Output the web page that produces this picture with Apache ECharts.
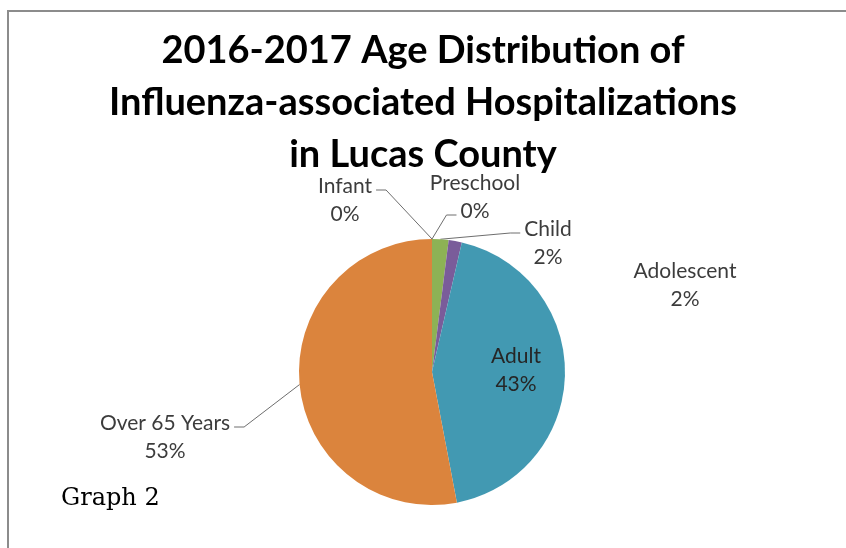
<!DOCTYPE html>
<html>
<head>
<meta charset="utf-8">
<script src="https://cdn.jsdelivr.net/npm/echarts@6/dist/echarts.min.js"></script>
<style>
  html, body { margin: 0; background: #fff; }
  #chart { width: 846px; height: 548px; }
</style>
</head>
<body>
<div id="chart"></div>
<script>
// Age groups and their share of hospitalizations (percent)
const categories = ['Infant', 'Preschool', 'Child', 'Adolescent', 'Adult', 'Over 65 Years'];
const shares = [0, 0, 2.0, 1.6, 43.4, 53.0];

const sliceColors = ['#4f81bd', '#c0504d', '#8db255', '#7a5c9a', '#4299b2', '#db843d'];
// Labels were hand-dragged in the original, so pin them where they sit.
const labelSpots = [[345, 200], [475, 197], [548, 243], [685, 285], [516, 370], [165, 437]];
// Which text row / side the leader line hooks onto (null = no leader).
const leaderHook = ['right-top', 'left-bottom', 'left-top', null, null, 'right-top'];

const LABEL_FONT = 'Lato, "Open Sans", sans-serif';
const LABEL_SIZE = 21;
const LABEL_LH = 28;

const measureCtx = document.createElement('canvas').getContext('2d');
function textWidth(s) {
  measureCtx.font = LABEL_SIZE + 'px ' + LABEL_FONT;
  return measureCtx.measureText(s).width;
}

const chart = echarts.init(document.getElementById('chart'), null, { renderer: 'canvas' });

chart.setOption({
  animation: false,
  backgroundColor: '#fff',
  title: {
    text: '2016-2017 Age Distribution of\nInfluenza-associated Hospitalizations\nin Lucas County',
    left: 'center',
    top: 20,
    textStyle: {
      fontFamily: LABEL_FONT,
      fontWeight: 'bold',
      fontSize: 38,
      lineHeight: 52,
      color: '#000'
    }
  },
  graphic: [
    {
      type: 'rect',
      silent: true,
      shape: { x: 8, y: 11, width: 900, height: 600 },
      style: { fill: 'none', stroke: '#8c8c8c', lineWidth: 2 }
    },
    {
      type: 'text',
      left: 61,
      top: 487,
      style: {
        text: 'Graph 2',
        font: '24px "DejaVu Serif", serif',
        fill: '#000'
      }
    }
  ],
  series: [
    {
      type: 'pie',
      silent: true,
      center: [432, 372],
      radius: 133,
      startAngle: 90,
      clockwise: true,
      avoidLabelOverlap: false,
      percentPrecision: 0,
      itemStyle: { borderWidth: 0 },
      label: {
        formatter: '{b}\n{d}%',
        fontFamily: LABEL_FONT,
        fontSize: LABEL_SIZE,
        lineHeight: LABEL_LH,
        color: '#3c3c3c',
        align: 'center'
      },
      labelLine: {
        show: true,
        length: 10,
        length2: 8,
        smooth: false,
        lineStyle: { color: '#6e6e6e', width: 1 }
      },
      labelLayout: (p) => {
        const [cx, cy] = labelSpots[p.dataIndex];
        const out = { x: cx, y: cy, align: 'center', verticalAlign: 'middle' };
        const hook = leaderHook[p.dataIndex];
        const pts = p.labelLinePoints;
        if (hook && pts && pts.length) {
          const row = hook.endsWith('top') ? 0 : 1;
          const dir = hook.startsWith('right') ? 1 : -1;
          const w = textWidth(String(p.text).split('\n')[row]);
          const ex = cx + dir * (w / 2 + 4);
          const ey = cy + (row === 0 ? -1 : 1) * LABEL_LH / 2 + 4;
          out.labelLinePoints = [pts[0], [ex + dir * 10, ey], [ex, ey]];
        }
        return out;
      },
      data: categories.map((name, i) => {
        const item = { name, value: shares[i], itemStyle: { color: sliceColors[i] } };
        if (name === 'Adolescent') item.labelLine = { show: false };
        if (name === 'Adult') {
          item.label = { position: 'inside', color: '#262626' };
          item.labelLine = { show: false };
        }
        return item;
      })
    }
  ]
});
</script>
</body>
</html>
